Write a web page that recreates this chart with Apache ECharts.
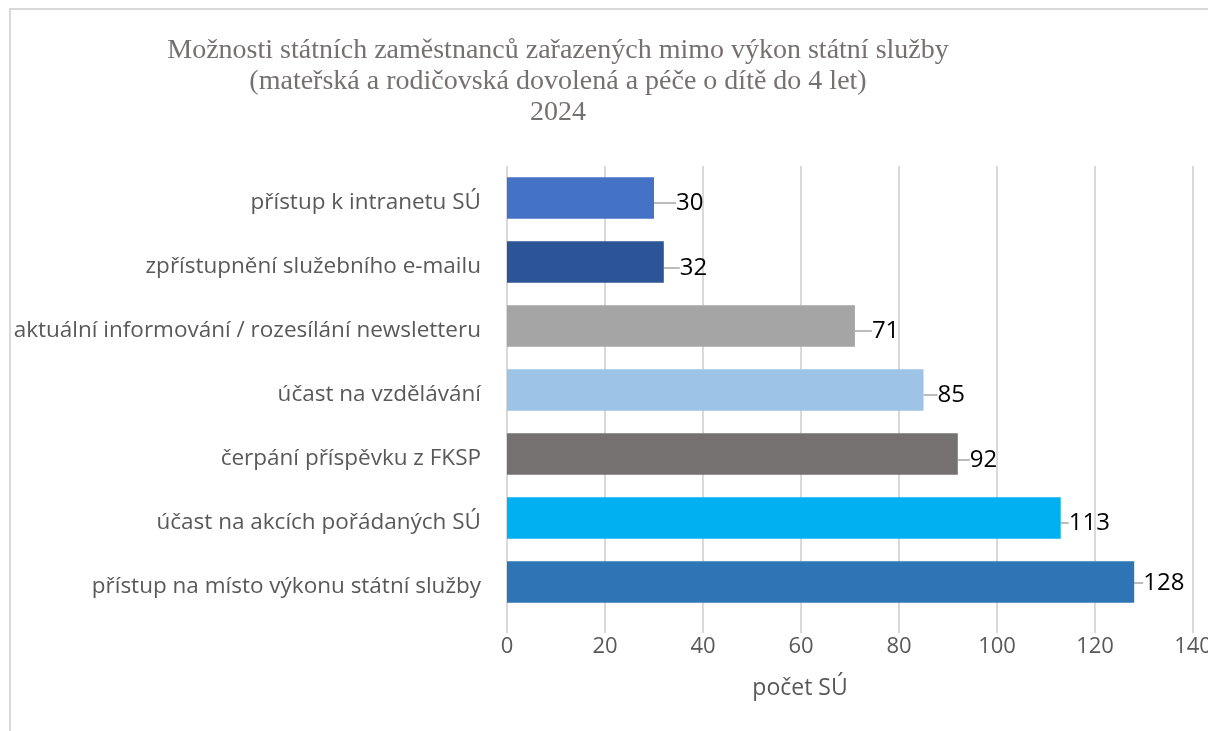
<!DOCTYPE html>
<html>
<head>
<meta charset="utf-8">
<script src="https://cdn.jsdelivr.net/npm/echarts@6/dist/echarts.min.js"></script>
<style>
  html, body { margin: 0; padding: 0; background: #ffffff; }
  #chart { width: 1208px; height: 731px; }
</style>
</head>
<body>
<div id="chart"></div>
<script>
// kategorie shora dolů
const categories = [
  "přístup k intranetu SÚ",
  "zpřístupnění služebního e-mailu",
  "aktuální informování / rozesílání newsletteru",
  "účast na vzdělávání",
  "čerpání příspěvku z FKSP",
  "účast na akcích pořádaných SÚ",
  "přístup na místo výkonu státní služby"
];
const values = [30, 32, 71, 85, 92, 113, 128];
const barColors = ["#4472C4", "#2B5597", "#A5A5A5", "#9DC3E6", "#767171", "#00B0F0", "#2E75B6"];
const axisTicks = [0, 20, 40, 60, 80, 100, 120, 140];

// posun popisků (jako v Excelu s vodicí čárou)
const labelShift = [
  [17, 5], [11, 6], [12, 5], [9, 5], [7, 6], [3, 5], [4, 1]
];

const chart = echarts.init(document.getElementById("chart"));

chart.setOption({
  backgroundColor: "#ffffff",
  animation: false,
  title: {
    text: "Možnosti státních zaměstnanců zařazených mimo výkon státní služby\n(mateřská a rodičovská dovolená a péče o dítě do 4 let)\n2024",
    left: 553,
    top: 30,
    textAlign: "center",
    textStyle: {
      fontFamily: "Liberation Serif",
      fontWeight: "normal",
      fontSize: 28,
      lineHeight: 31,
      color: "#767171"
    }
  },
  graphic: [
    {
      type: "rect",
      shape: { x: 10, y: 9, width: 1400, height: 900 },
      style: { fill: null, stroke: "#d9d9d9", lineWidth: 2 },
      silent: true
    }
  ],
  grid: {
    left: 507,
    right: 15,
    top: 166,
    bottom: 117,
    containLabel: false,
    outerBoundsMode: "none"
  },
  xAxis: {
    type: "value",
    min: axisTicks[0],
    max: axisTicks[axisTicks.length - 1],
    interval: 20,
    name: "počet SÚ",
    nameLocation: "middle",
    nameGap: 63,
    nameTextStyle: {
      fontFamily: "Open Sans",
      fontSize: 23,
      color: "#595959",
      padding: [0, 100, 0, 0]
    },
    axisLine: { show: false },
    axisTick: {
      show: true,
      length: 19,
      lineStyle: { color: "#d9d9d9", width: 2 }
    },
    axisLabel: {
      margin: 22,
      fontFamily: "Open Sans",
      fontSize: 22,
      color: "#595959"
    },
    splitLine: {
      show: true,
      lineStyle: { color: "#d9d9d9", width: 2 }
    }
  },
  yAxis: {
    type: "category",
    inverse: true,
    data: categories,
    axisLine: { show: false },
    axisTick: { show: false },
    axisLabel: {
      margin: 26,
      verticalAlign: "top",
      lineHeight: 10,
      fontFamily: "Open Sans",
      fontSize: 22.5,
      color: "#595959"
    }
  },
  series: [
    {
      type: "bar",
      barWidth: "65%",
      data: values.map(function (v, i) {
        return { value: v, itemStyle: { color: barColors[i] } };
      }),
      label: {
        show: true,
        position: "right",
        distance: 5,
        fontFamily: "Open Sans",
        fontSize: 24,
        color: "#000000"
      },
      labelLine: {
        show: true,
        lineStyle: { color: "#a6a6a6", width: 1.5 }
      },
      labelLayout: function (params) {
        const s = labelShift[params.dataIndex];
        return { dx: s[0], dy: s[1] };
      }
    }
  ]
});
</script>
</body>
</html>
